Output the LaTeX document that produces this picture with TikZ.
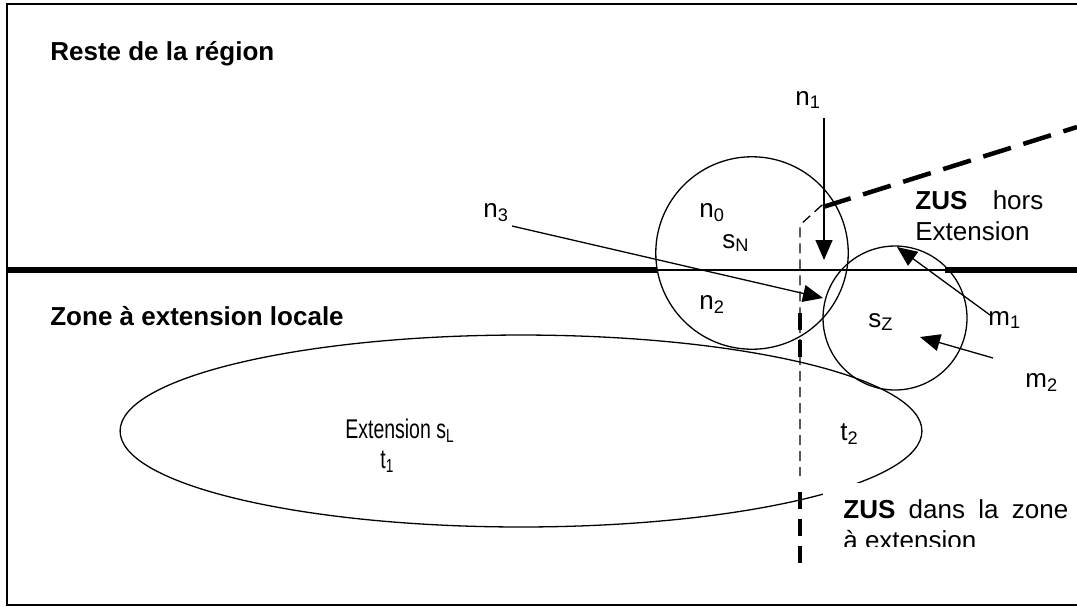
\documentclass[tikz,border=0pt]{standalone}
\usepackage{fontspec}
\setmainfont{Liberation Sans}
\newfontfamily\narrowfont[FakeStretch=0.72]{Liberation Sans}
\usepackage{tikz}
\usetikzlibrary{shapes.geometric, arrows.meta, positioning}

\newcommand{\basefont}{\fontsize{14.8}{17.6}\selectfont}
\newcommand{\narrowsize}{\fontsize{15.4}{17.6}\selectfont}

\begin{document}
\begin{tikzpicture}[
    x=0.02cm, y=-0.02cm,
    font=\basefont,
    frame/.style={line width=0.04cm, black},
    border/.style={line width=0.11cm, black},
    thinline/.style={line width=0.026cm, black},
    zone/.style={circle, draw, line width=0.026cm, inner sep=0pt, outer sep=0pt, minimum size=#1},
    extzone/.style={ellipse, draw, line width=0.026cm, inner sep=0pt, outer sep=0pt, minimum width=16.04cm, minimum height=3.84cm},
    zusthick/.style={line width=0.07cm, dash pattern=on 0.34cm off 0.2cm},
    zusthin/.style={line width=0.026cm, dash pattern=on 0.2cm off 0.12cm},
    zusdiag/.style={line width=0.09cm, dash pattern=on 0.58cm off 0.26cm},
    flow/.style={line width=0.026cm, -{Triangle[length=0.4cm, width=0.34cm]}},
    lbl/.style={inner sep=0pt, anchor=base west},
    title/.style={lbl, font=\basefont\bfseries},
    narrow/.style={lbl, font=\narrowfont\narrowsize},
    note/.style={inner sep=0pt, anchor=north west, align=justify}
]
    \useasboundingbox (0,0) rectangle (1077,606);

    % Frame
    \draw[frame] (1077,4) -- (7,4) -- (7,605) -- (1077,605);

    % Border between the two areas
    \draw[border] (7,270) -- (657,270);
    \draw[thinline] (657,270) -- (945,270);
    \draw[border] (945,270) -- (1077,270);

    % ZUS boundary
    \draw[zusthick] (800,313) -- (800,362);
    \draw[zusthick] (800,492) -- (800,563);

    % Extension
    \node[extzone] (ext) at (521,431) {};

    \coordinate (zk) at (822,205);
    \coordinate (zc) at (800,225);
    \draw[zusthin] (zk) -- (zc) -- (800,476);
    \draw[zusdiag] (823,207) -- (1077,127);

    % Circles
    \node[zone=3.85cm] (sNc) at (752,253) {};
    \node[zone=2.88cm] (sZc) at (895,318) {};

    % Area titles
    \node[title] (reste) at (50,60) {Reste de la région};
    \node[title] (locale) at (50,325) {Zone à extension locale};

    % Labels
    \node[lbl] (n1) at (795,105) {n\textsubscript{1}};
    \node[lbl] (n3) at (483,217) {n\textsubscript{3}};
    \node[lbl] (n0) at (699,217) {n\textsubscript{0}};
    \node[lbl] (sN) at (722,248) {s\textsubscript{N}};
    \node[lbl] (n2) at (699,309) {n\textsubscript{2}};
    \node[lbl] (sZ) at (868,327) {s\textsubscript{Z}};
    \node[lbl] (m1) at (988,325) {m\textsubscript{1}};
    \node[lbl] (m2) at (1025,387) {m\textsubscript{2}};
    \node[lbl] (t2) at (840,440) {t\textsubscript{2}};
    \node[narrow] (sL) at (345,438) {Extension s\textsubscript{L}};
    \node[narrow] (t1) at (380,468) {t\textsubscript{1}};

    \node[note, text width=2.56cm] (hors) at (915,190) {\textbf{ZUS} hors\linebreak Extension};
    \begin{scope}
        \clip (823,483) rectangle (1077,546);
        \node[note, fill=white, text width=4.5cm, inner xsep=0.4cm, inner ysep=0.32cm] (dans) at (823,483) {\textbf{ZUS} dans la zone\linebreak à extension};
    \end{scope}

    % Flows
    \coordinate (n1 tail) at (824,118);
    \coordinate (n1 tip) at (824,260);
    \coordinate (n3 tail) at (512,226);
    \coordinate (n3 tip) at (823,298);
    \coordinate (m1 tail) at (990,315);
    \coordinate (m1 tip) at (897,247);
    \coordinate (m2 tail) at (993,358);
    \coordinate (m2 tip) at (920,337);
    \draw[flow] (n1 tail) -- (n1 tip);
    \draw[flow] (n3 tail) -- (n3 tip);
    \draw[flow] (m1 tail) -- (m1 tip);
    \draw[flow] (m2 tail) -- (m2 tip);

\end{tikzpicture}
\end{document}
